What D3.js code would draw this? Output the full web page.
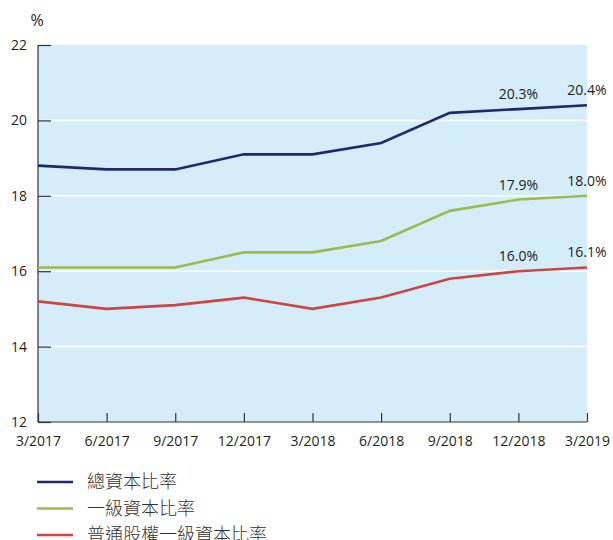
<!DOCTYPE html>
<html>
<head>
<meta charset="utf-8">
<script src="https://cdn.jsdelivr.net/npm/d3@7"></script>
<style>
  body { margin: 0; background: #fff; }
  svg text { font-family: "Open Sans", "Noto Sans CJK TC", sans-serif; fill: #231f20; }
</style>
</head>
<body>
<div id="chart"></div>
<script>
// Chart data
const periods = ["3/2017", "6/2017", "9/2017", "12/2017", "3/2018", "6/2018", "9/2018", "12/2018", "3/2019"];
const totalRatio = [18.8, 18.7, 18.7, 19.1, 19.1, 19.4, 20.2, 20.3, 20.4];
const tier1Ratio = [16.1, 16.1, 16.1, 16.5, 16.5, 16.8, 17.6, 17.9, 18.0];
const cet1Ratio = [15.2, 15.0, 15.1, 15.3, 15.0, 15.3, 15.8, 16.0, 16.1];
const yTicks = [12, 14, 16, 18, 20, 22];
const seriesNames = ["總資本比率", "一級資本比率", "普通股權一級資本比率"];
const seriesColors = ["#1f2a6e", "#9bbb4f", "#cd4645"];

const seriesList = [totalRatio, tier1Ratio, cet1Ratio];

var margin = { top: 45, left: 38 },
    width = 549,
    height = 377;

var svg = d3.select("#chart").append("svg")
    .attr("width", 613)
    .attr("height", 540);

var g = svg.append("g")
    .attr("transform", "translate(" + margin.left + "," + margin.top + ")");

var x = d3.scalePoint().domain(periods).range([0, width]);
var y = d3.scaleLinear().domain([12, 22]).range([height, 0]);

// Plot background
g.append("rect")
  .attr("width", width)
  .attr("height", height)
  .attr("fill", "#d5ecf9");

// White gridlines
g.selectAll("line.grid")
  .data(yTicks.filter(t => t > 12 && t < 22))
  .enter().append("line")
  .attr("class", "grid")
  .attr("x1", 0).attr("x2", width)
  .attr("y1", d => y(d)).attr("y2", d => y(d))
  .attr("stroke", "#fff")
  .attr("stroke-width", 1.5);

// y axis (ticks inside)
var yAxis = g.append("g")
  .call(d3.axisRight(y).tickValues(yTicks).tickSize(13).tickFormat(d3.format("d")));
yAxis.select(".domain").attr("stroke", "#333").attr("stroke-width", 1.2).attr("d", "M0,0V" + height);
yAxis.selectAll(".tick line").attr("stroke", "#333").attr("stroke-width", 1.2);
yAxis.selectAll(".tick text")
  .attr("x", -11)
  .attr("text-anchor", "end")
  .style("font-size", "14px");

// x axis (ticks pointing up)
var xAxis = g.append("g")
  .attr("transform", "translate(0," + height + ")")
  .call(d3.axisBottom(x).tickSize(-9).tickPadding(0));
xAxis.select(".domain").attr("stroke", "#333").attr("stroke-width", 1.2).attr("d", "M0,0H" + width);
xAxis.selectAll(".tick line").attr("stroke", "#333").attr("stroke-width", 1.2);
xAxis.selectAll(".tick text")
  .attr("y", 24)
  .attr("dy", 0)
  .style("font-size", "14px");

// Unit label
svg.append("text")
  .attr("x", 37).attr("y", 26)
  .attr("text-anchor", "middle")
  .style("font-size", "16px")
  .text("%");

// Lines
var line = d3.line()
  .x((d, i) => x(periods[i]))
  .y(d => y(d));

seriesList.forEach(function(s, k) {
  g.append("path")
    .datum(s)
    .attr("fill", "none")
    .attr("stroke", seriesColors[k])
    .attr("stroke-width", 2.6)
    .attr("d", line);

  // Value labels on last two points
  g.selectAll("text.lab" + k)
    .data(s.slice(-2))
    .enter().append("text")
    .attr("x", (d, i) => x(periods[periods.length - 2 + i]))
    .attr("y", d => y(d) - 10)
    .attr("text-anchor", "middle")
    .style("font-size", "14px")
    .text(d => d.toFixed(1) + "%");
});

// Legend
var legend = svg.append("g").attr("transform", "translate(37,482)");
seriesNames.forEach(function(n, k) {
  var row = legend.append("g").attr("transform", "translate(0," + (k * 26.5) + ")");
  row.append("line")
    .attr("x1", 0).attr("x2", 36)
    .attr("stroke", seriesColors[k])
    .attr("stroke-width", 2.6);
  row.append("text")
    .attr("x", 50).attr("y", 6)
    .style("font-family", "'Noto Sans CJK TC', sans-serif")
    .style("font-weight", 300)
    .style("font-size", "18px")
    .style("fill", "#333")
    .text(n);
});
</script>
</body>
</html>
